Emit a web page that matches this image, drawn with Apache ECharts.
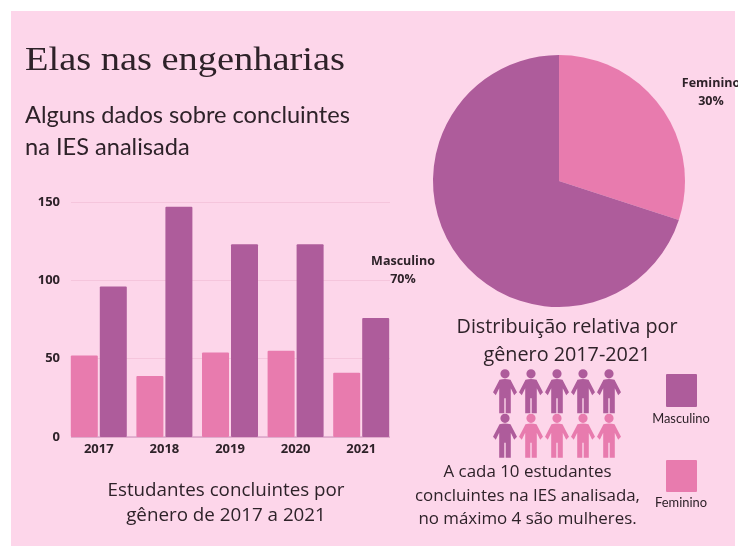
<!DOCTYPE html>
<html>
<head>
<meta charset="utf-8">
<style>html,body{margin:0;padding:0;background:#fff}#chart{width:738px;height:547px}</style>
<script src="https://cdn.jsdelivr.net/npm/echarts@6/dist/echarts.min.js"></script>
</head>
<body>
<div id="chart"></div>
<script>
var anos = ['2017', '2018', '2019', '2020', '2021'];
var feminino = [52, 39, 54, 55, 41];
var masculino = [96, 147, 123, 123, 76];
var yTicks = [0, 50, 100, 150];
var pieNames = ['Feminino', 'Masculino'];
var pieValues = [30, 70];
// a cada 10 estudantes: 1 = masculino, 0 = feminino (linha de cima, linha de baixo)
var pessoasTopo = [1, 1, 1, 1, 1];
var pessoasBase = [1, 0, 0, 0, 0];

var corBg = '#fdd6ea', corM = '#ae5c9b', corF = '#e87bae', corTxt = '#2e2229';
var pessoa = 'path://M12 0a4.6 4.6 0 1 1 0 9.2a4.6 4.6 0 1 1 0-9.2Z M6.5 10.5Q12 9.2 17.5 10.5L24 23L21.2 26L17.8 19V44H12.7V29H11.3V44H6.2V19L2.8 26L0 23Z';
var pieLabelPos = [{x: 711, y: 92}, {x: 403, y: 270}];

function texto(str, x, y, size, family, align) {
    return {type: 'text', x: x, y: y, silent: true, style: {
        text: str, fill: corTxt, fontSize: size, fontFamily: family,
        align: align || 'center', verticalAlign: 'middle'
    }};
}
function pontos(linha, row, valor) {
    var out = [];
    linha.forEach(function (v, i) {
        if (v === valor) out.push([i, row]);
    });
    return out;
}

var titulo = texto('Elas nas engenharias', 25, 61, 34, 'Liberation Serif', 'left');
titulo.scaleX = 1.13;

var chart = echarts.init(document.getElementById('chart'), null, {renderer: 'canvas'});
chart.setOption({
    animation: false,
    backgroundColor: '#fff',
    grid: [
        {left: 66, width: 328, top: 202, height: 235},
        {left: 71, width: 319, top: 202, height: 235},
        {left: 492, width: 130, top: 369, height: 89}
    ],
    xAxis: [
        {type: 'category', gridIndex: 0, data: anos, axisTick: {show: false}, axisLine: {show: false},
            axisLabel: {color: corTxt, fontSize: 13, fontWeight: 'bold', fontFamily: 'Open Sans', margin: 6}},
        {type: 'category', gridIndex: 1, data: anos, show: false},
        {type: 'category', gridIndex: 2, data: anos, show: false}
    ],
    yAxis: [
        {type: 'value', gridIndex: 0, min: 0, max: 150, interval: 50, splitLine: {show: false},
            axisLabel: {color: corTxt, fontSize: 13, fontWeight: 'bold', fontFamily: 'Open Sans', margin: 6,
                customValues: yTicks}},
        {type: 'value', gridIndex: 1, min: 0, max: 150, interval: 50, axisLabel: {show: false},
            axisLine: {show: false}, axisTick: {show: false},
            splitLine: {show: true, lineStyle: {color: '#f5c5dc', width: 1}}},
        {type: 'category', gridIndex: 2, data: ['a', 'b'], inverse: true, show: false}
    ],
    series: [
        {type: 'bar', name: 'Feminino', xAxisIndex: 0, yAxisIndex: 0, data: feminino, barWidth: 27, barGap: '7.4%',
            itemStyle: {color: corF, borderRadius: 1}},
        {type: 'bar', name: 'Masculino', xAxisIndex: 0, yAxisIndex: 0, data: masculino, barWidth: 27, barGap: '7.4%',
            itemStyle: {color: corM, borderRadius: 1}},
        {type: 'pie', center: [559, 181], radius: 126, startAngle: 90, clockwise: true,
            data: pieNames.map(function (n, i) { return {name: n, value: pieValues[i]}; }),
            color: [corF, corM],
            label: {show: true, position: 'outside', formatter: '{b}\n{d}%', color: corTxt, fontSize: 12.5,
                fontWeight: 'bold', fontFamily: 'Open Sans', lineHeight: 18, align: 'center', overflow: 'none'},
            labelLine: {show: false},
            labelLayout: function (p) {
                var pos = pieLabelPos[p.dataIndex];
                return {x: pos.x, y: pos.y, align: 'center', verticalAlign: 'middle'};
            }},
        {type: 'scatter', xAxisIndex: 2, yAxisIndex: 2, symbol: pessoa, symbolSize: [24, 44],
            itemStyle: {color: corM, opacity: 1},
            data: pontos(pessoasTopo, 0, 1).concat(pontos(pessoasBase, 1, 1))},
        {type: 'scatter', xAxisIndex: 2, yAxisIndex: 2, symbol: pessoa, symbolSize: [24, 44],
            itemStyle: {color: corF, opacity: 1},
            data: pontos(pessoasTopo, 0, 0).concat(pontos(pessoasBase, 1, 0))}
    ],
    graphic: [
        {type: 'rect', z: -10, silent: true, shape: {x: 11, y: 11, width: 724, height: 535}, style: {fill: corBg}},
        {type: 'line', z: 1, silent: true, shape: {x1: 71, y1: 437, x2: 390, y2: 437}, style: {stroke: '#d9a3c9', lineWidth: 1.5}},
        titulo,
        texto('Alguns dados sobre concluintes', 25, 115, 23.6, 'Lato', 'left'),
        texto('na IES analisada', 25, 147, 23.6, 'Lato', 'left'),
        texto('Distribuição relativa por', 567, 327, 19.8, 'Open Sans'),
        texto('gênero 2017-2021', 567, 355, 19.8, 'Open Sans'),
        texto('Estudantes concluintes por', 226, 491, 18.8, 'Open Sans'),
        texto('gênero de 2017 a 2021', 226, 516, 18.8, 'Open Sans'),
        texto('A cada 10 estudantes', 527.5, 472, 16.9, 'Open Sans'),
        texto('concluintes na IES analisada,', 527.5, 496, 16.9, 'Open Sans'),
        texto('no máximo 4 são mulheres.', 527.5, 519, 16.9, 'Open Sans'),
        {type: 'rect', silent: true, shape: {x: 666, y: 374, width: 31, height: 33, r: 1}, style: {fill: corM}},
        {type: 'rect', silent: true, shape: {x: 666, y: 460, width: 31, height: 32, r: 1}, style: {fill: corF}},
        texto('Masculino', 681, 419, 12.9, 'Lato'),
        texto('Feminino', 681, 503, 12.9, 'Lato')
    ]
});
</script>
</body>
</html>
